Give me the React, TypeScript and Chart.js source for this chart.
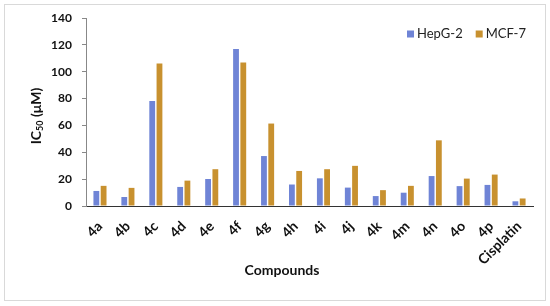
import React, { useEffect, useRef } from "react";
import { Chart, registerables } from "chart.js";

Chart.register(...registerables);

const categories = ["4a", "4b", "4c", "4d", "4e", "4f", "4g", "4h", "4i", "4j", "4k", "4m", "4n", "4o", "4p", "Cisplatin"];
const hepg2 = [11.2, 6.7, 78.2, 14.2, 20.1, 117.0, 37.2, 16.0, 20.6, 13.7, 7.4, 9.9, 22.3, 14.8, 15.7, 3.5];
const mcf7 = [15.0, 13.5, 106.2, 18.9, 27.4, 106.8, 61.4, 26.1, 27.4, 29.9, 11.8, 15.0, 48.9, 20.4, 23.4, 5.6];
const yTicks = [0, 20, 40, 60, 80, 100, 120, 140];
const seriesNames = ["HepG-2", "MCF-7"];
const seriesColors = ["#6f84d6", "#c8912f"];

const FONT = "Lato, 'Open Sans', sans-serif";

const decor = {
  id: "decor",
  beforeDraw(chart: any) {
    const ctx = chart.ctx;
    ctx.save();
    ctx.fillStyle = "#ffffff";
    ctx.fillRect(0, 0, chart.width, chart.height);
    ctx.strokeStyle = "#d9d9d9";
    ctx.lineWidth = 1;
    ctx.strokeRect(4.5, 4.5, 541, 296);
    ctx.restore();
  },
  afterDraw(chart: any) {
    const ctx = chart.ctx;
    const area = chart.chartArea;
    ctx.save();
    ctx.translate(36, (area.top + area.bottom) / 2 + 4);
    ctx.rotate(-Math.PI / 2);
    ctx.fillStyle = "#111";
    ctx.textBaseline = "middle";
    const big = "bold 14px " + FONT;
    const small = "bold 9px " + FONT;
    ctx.font = big;
    const w1 = ctx.measureText("IC").width;
    const w3 = ctx.measureText(" (μM)").width;
    ctx.font = small;
    const w2 = ctx.measureText("50").width;
    const total = w1 + w2 + w3;
    let x = -total / 2;
    ctx.textAlign = "left";
    ctx.font = big;
    ctx.fillText("IC", x, 0);
    x += w1;
    ctx.font = small;
    ctx.fillText("50", x, 4);
    x += w2;
    ctx.font = big;
    ctx.fillText(" (μM)", x, 0);
    ctx.restore();

    ctx.save();
    ctx.fillStyle = "#111";
    ctx.font = "bold 14px " + FONT;
    ctx.textAlign = "center";
    ctx.textBaseline = "middle";
    ctx.fillText("Compounds", 282, 270);
    ctx.restore();

    ctx.save();
    ctx.font = "13px " + FONT;
    ctx.textBaseline = "middle";
    ctx.textAlign = "left";
    const ly = 34;
    let lx = 407;
    chart.data.datasets.forEach((ds: any) => {
      ctx.fillStyle = ds.backgroundColor;
      ctx.fillRect(lx, ly - 3.5, 7, 7);
      ctx.fillStyle = "#222";
      ctx.fillText(ds.label, lx + 10, ly);
      lx += 10 + ctx.measureText(ds.label).width + 13;
    });
    ctx.restore();
  },
};

export default function App() {
  const ref = useRef<HTMLCanvasElement | null>(null);
  useEffect(() => {
    document.body.style.margin = "0";
    const chart = new Chart(ref.current as HTMLCanvasElement, {
      type: "bar",
      data: {
        labels: categories,
        datasets: [
          { label: seriesNames[0], data: hepg2, backgroundColor: seriesColors[0] },
          { label: seriesNames[1], data: mcf7, backgroundColor: seriesColors[1] },
        ],
      },
      options: {
        animation: false,
        responsive: false,
        maintainAspectRatio: false,
        layout: { padding: { left: 0, top: 18, right: 17, bottom: 0 } },
        datasets: { bar: { categoryPercentage: 0.52, barPercentage: 0.8 } },
        plugins: { legend: { display: false }, tooltip: { enabled: false } },
        scales: {
          x: {
            grid: { display: false },
            border: { display: true, color: "#333", width: 1 },
            ticks: {
              color: "#111",
              font: { family: FONT, size: 14, weight: "bold" },
              minRotation: 45,
              maxRotation: 45,
              autoSkip: false,
              padding: 4,
            },
            afterFit: (s: any) => {
              s.height = 100;
            },
          },
          y: {
            min: 0,
            max: 140,
            afterBuildTicks: (s: any) => {
              s.ticks = yTicks.map((v) => ({ value: v }));
            },
            grid: { drawOnChartArea: false, drawTicks: true, tickLength: 4, color: "#888" },
            border: { display: true, color: "#888", width: 1 },
            ticks: {
              color: "#111",
              font: { family: FONT, size: 12, weight: "bold" },
              padding: 10,
            },
            afterFit: (s: any) => {
              s.width = 86;
            },
          },
        },
      },
      plugins: [decor],
    });
    return () => chart.destroy();
  }, []);
  return <canvas ref={ref} width={550} height={306} style={{ display: "block" }} />;
}
